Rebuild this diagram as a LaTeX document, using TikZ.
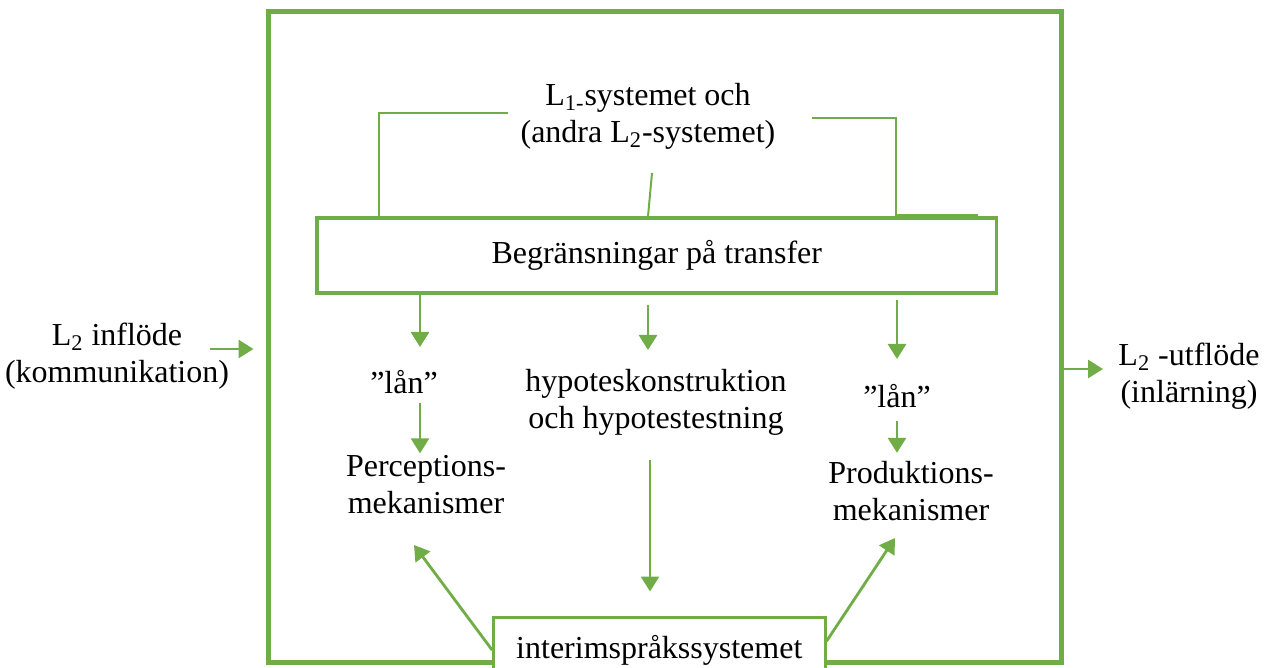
\documentclass[tikz,border=0pt]{standalone}
\usepackage{fontspec}
\setmainfont{Liberation Serif}
\usetikzlibrary{arrows.meta}
\definecolor{officegreen}{HTML}{70AD47}
\begin{document}
\begin{tikzpicture}[x=0.5pt,y=-0.5pt]
        % Styles
        \tikzstyle{body text}=[font=\fontsize{16}{18.5}\selectfont,align=center,inner sep=0pt]
        \tikzstyle{frame line}=[draw=officegreen,line width=2.5pt]
        \tikzstyle{box line}=[draw=officegreen,line width=1.7pt]
        \tikzstyle{link line}=[draw=officegreen,line width=1pt]
        \tikzstyle{flow arrow}=[draw=officegreen,line width=1.4pt,-{Triangle[length=7.5pt,width=9pt]}]
        \useasboundingbox (0,0) rectangle (1280,668);
        %The graphic
        %frame and boxes
        \node[style=frame line,minimum width=396.5pt,minimum height=325pt,inner sep=0pt] (frame) at (664.5,337) {};
        \node[style=box line,body text,minimum width=339.7pt,minimum height=37.5pt] (limits) at (656.8,255.7) {Begränsningar på transfer};
        \node[body text,draw=officegreen,line width=1.5pt,fill=white,minimum width=165.7pt,minimum height=33pt] (interim) at (659.3,650) {interimspråkssystemet};
        %texts
        \node[body text] (source) at (648,116) {L\textsubscript{1-}systemet och\\(andra L\textsubscript{2}-systemet)};
        \node[body text] (inflow) at (117,356) {L\textsubscript{2} inflöde\\(kommunikation)};
        \node[body text] (outflow) at (1189,376) {L\textsubscript{2} -utflöde\\(inlärning)};
        \node[body text] (lanL) at (404,382) {”lån”};
        \node[body text] (lanR) at (897,396) {”lån”};
        \node[body text] (hypothesis) at (656,402) {hypoteskonstruktion\\och hypotestestning};
        \node[body text] (perception) at (426,485) {Perceptions-\\mekanismer};
        \node[body text] (production) at (911,491) {Produktions-\\mekanismer};
        %points
        \coordinate (bendL) at (379,113);
        \coordinate (endL) at (508,113);
        \coordinate (startR) at (812,118);
        \coordinate (bendR) at (895.5,118);
        \coordinate (endR) at (978,215.5);
        \coordinate (footM) at (652,173);
        \coordinate (colM) at (648,0);
        \coordinate (tipL) at (420,347);
        \coordinate (tipM) at (648,350);
        \coordinate (tipR) at (897,359);
        \coordinate (colH) at (650,0);
        \coordinate (tipP) at (414,545);
        \coordinate (tipQ) at (895,538);
        \coordinate (inStart) at (210,349);
        \coordinate (outTip) at (1103,369);
        %links
        \draw[style=link line] (limits.north -| bendL) -- (bendL) -- (endL);
        \draw[style=link line] (startR) -- (bendR) -- (bendR |- endR) -- (endR);
        \draw[style=link line] (footM) -- (limits.north -| colM);
        %arrows
        \draw[style=flow arrow] (limits.south -| tipL) -- (tipL);
        \draw[style=flow arrow,shorten <=5pt] (limits.south -| tipM) -- (tipM);
        \draw[style=flow arrow,shorten <=2.5pt] (limits.south -| tipR) -- (tipR);
        \draw[style=flow arrow,shorten <=4.5pt,shorten >=1pt] (lanL.south -| tipL) -- (perception.north -| tipL);
        \draw[style=flow arrow,shorten <=6.5pt,shorten >=4pt] (lanR.south -| tipR) -- (production.north -| tipR);
        \draw[style=flow arrow,shorten <=12.5pt,shorten >=12pt] (hypothesis.south -| colH) -- (interim.north -| colH);
        \draw[style=flow arrow] (interim.west) -- (tipP);
        \draw[style=flow arrow] (interim.3) -- (tipQ);
        \draw[style=flow arrow,shorten >=6pt] (inStart) -- (inStart -| frame.west);
        \draw[style=flow arrow] (frame.east |- outTip) -- (outTip);
\end{tikzpicture}
\end{document}
